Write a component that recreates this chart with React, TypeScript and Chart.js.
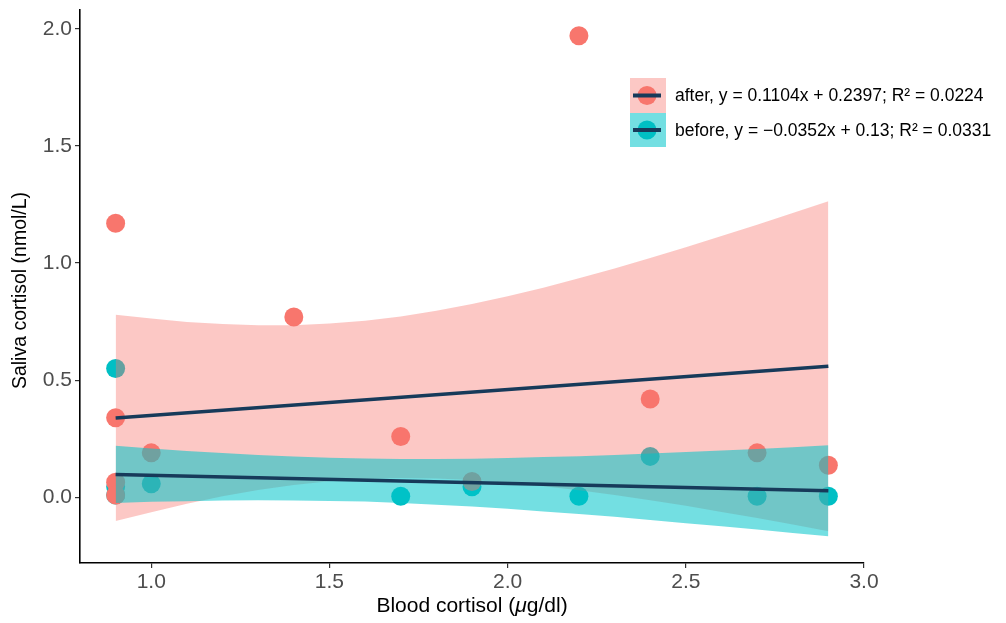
import React, { useEffect, useRef } from 'react';
import { Chart, registerables } from 'chart.js';

Chart.register(...registerables);

const FONT = '"Liberation Sans", Arial, Helvetica, sans-serif';

// Observed points
const afterX = [0.9, 0.9, 0.9, 0.9, 1.0, 1.4, 1.7, 1.9, 2.2, 2.4, 2.7, 2.9];
const afterY = [1.17, 0.34, 0.065, 0.01, 0.19, 0.77, 0.26, 0.068, 1.97, 0.42, 0.19, 0.137];
const beforeX = [0.9, 0.9, 0.9, 1.0, 1.7, 1.9, 2.2, 2.4, 2.7, 2.9];
const beforeY = [0.55, 0.045, 0.01, 0.058, 0.005, 0.045, 0.005, 0.175, 0.005, 0.005];

// Fitted lines (endpoints)
const fitX = [0.9, 2.9];
const afterFitY = [0.339, 0.560];
const beforeFitY = [0.098, 0.028];

// Confidence bands
const bandX = [0.9, 1.0, 1.1, 1.2, 1.3, 1.4, 1.5, 1.6, 1.7, 1.8, 1.9, 2.0, 2.1, 2.2, 2.3, 2.4, 2.5, 2.6, 2.7, 2.8, 2.9];
const afterUpper = [0.779, 0.763, 0.749, 0.740, 0.735, 0.735, 0.742, 0.754, 0.772, 0.796, 0.825, 0.858, 0.895, 0.935, 0.977, 1.022, 1.068, 1.115, 1.164, 1.214, 1.264];
const afterLower = [-0.101, -0.063, -0.027, 0.005, 0.032, 0.053, 0.069, 0.079, 0.083, 0.081, 0.074, 0.063, 0.048, 0.030, 0.010, -0.012, -0.036, -0.062, -0.088, -0.116, -0.144];
const beforeUpper = [0.220, 0.209, 0.198, 0.189, 0.181, 0.174, 0.169, 0.166, 0.164, 0.164, 0.165, 0.168, 0.172, 0.176, 0.181, 0.187, 0.194, 0.200, 0.207, 0.214, 0.222];
const beforeLower = [-0.024, -0.019, -0.016, -0.013, -0.012, -0.013, -0.015, -0.018, -0.024, -0.031, -0.039, -0.049, -0.060, -0.071, -0.083, -0.096, -0.110, -0.123, -0.137, -0.152, -0.166];

const xTicks = [1.0, 1.5, 2.0, 2.5, 3.0];
const yTicks = [0.0, 0.5, 1.0, 1.5, 2.0];

const legendLabels = [
  'after, y = 0.1104x + 0.2397; R\u00B2 = 0.0224',
  'before, y = \u22120.0352x + 0.13; R\u00B2 = 0.0331',
];

const RED = '#F8766D';
const TEAL = '#00BFC4';
const PINK_FILL = 'rgba(248,118,109,0.4)';
const TEAL_FILL = 'rgba(0,196,202,0.55)';
const NAVY = '#173A5A';

const pts = (xs: number[], ys: number[]) => xs.map((x, i) => ({ x, y: ys[i] }));

const overlayPlugin = {
  id: 'overlay',
  afterDraw(chart: any) {
    const ctx = chart.ctx;
    const area = chart.chartArea;
    ctx.save();
    // X title
    ctx.fillStyle = '#000';
    ctx.textBaseline = 'middle';
    const xt1 = 'Blood cortisol (';
    const xt2 = '\u03BC';
    const xt3 = 'g/dl)';
    const XF = 21;
    ctx.font = `${XF}px ${FONT}`;
    const w1 = ctx.measureText(xt1).width;
    const w3 = ctx.measureText(xt3).width;
    ctx.font = `italic ${XF}px ${FONT}`;
    const w2 = ctx.measureText(xt2).width;
    const total = w1 + w2 + w3;
    const cx = (area.left + area.right) / 2;
    const sx = cx - total / 2;
    const ty = 606;
    ctx.textAlign = 'left';
    ctx.font = `${XF}px ${FONT}`;
    ctx.fillText(xt1, sx, ty);
    ctx.font = `italic ${XF}px ${FONT}`;
    ctx.fillText(xt2, sx + w1, ty);
    ctx.font = `${XF}px ${FONT}`;
    ctx.fillText(xt3, sx + w1 + w2, ty);

    // Y title
    ctx.save();
    ctx.translate(21, (area.top + area.bottom) / 2 + 4);
    ctx.rotate(-Math.PI / 2);
    ctx.textAlign = 'center';
    ctx.font = `19.5px ${FONT}`;
    ctx.fillText('Saliva cortisol (nmol/L)', 0, 0);
    ctx.restore();

    // Legend
    const keys = [
      { fill: PINK_FILL, pt: RED, y0: 78, h: 35 },
      { fill: TEAL_FILL, pt: TEAL, y0: 113, h: 34 },
    ];
    keys.forEach((k, i) => {
      const kx = 630, kw = 36;
      ctx.fillStyle = k.fill;
      ctx.fillRect(kx, k.y0, kw, k.h);
      const cy = k.y0 + k.h / 2;
      ctx.beginPath();
      ctx.fillStyle = k.pt;
      ctx.arc(kx + 17, cy, 9.5, 0, Math.PI * 2);
      ctx.fill();
      ctx.strokeStyle = NAVY;
      ctx.lineWidth = 4;
      ctx.beginPath();
      ctx.moveTo(kx + 3, cy);
      ctx.lineTo(kx + 31, cy);
      ctx.stroke();
      ctx.fillStyle = '#000';
      ctx.font = `17.5px ${FONT}`;
      ctx.textAlign = 'left';
      ctx.textBaseline = 'middle';
      ctx.fillText(legendLabels[i], 675, cy + 1);
    });
    ctx.restore();
  },
};

export default function App() {
  const ref = useRef<HTMLCanvasElement | null>(null);
  useEffect(() => {
    if (!ref.current) return;
    const chart = new Chart(ref.current, {
      type: 'scatter',
      data: {
        datasets: [
          {
            label: 'before points',
            data: pts(beforeX, beforeY),
            backgroundColor: TEAL,
            borderWidth: 0,
            pointRadius: 9.5,
            order: 11,
          },
          {
            label: 'after points',
            data: pts(afterX, afterY),
            backgroundColor: RED,
            borderWidth: 0,
            pointRadius: 9.5,
            order: 10,
          },
          {
            label: 'after upper',
            data: pts(bandX, afterUpper),
            showLine: true,
            borderWidth: 0,
            borderColor: 'rgba(0,0,0,0)',
            pointRadius: 0,
            backgroundColor: PINK_FILL,
            fill: { target: 3 },
            tension: 0,
            order: 6,
          },
          {
            label: 'after lower',
            data: pts(bandX, afterLower),
            showLine: true,
            borderWidth: 0,
            borderColor: 'rgba(0,0,0,0)',
            pointRadius: 0,
            fill: false,
            order: 6,
          },
          {
            label: 'before upper',
            data: pts(bandX, beforeUpper),
            showLine: true,
            borderWidth: 0,
            borderColor: 'rgba(0,0,0,0)',
            pointRadius: 0,
            backgroundColor: TEAL_FILL,
            fill: { target: 5 },
            tension: 0,
            order: 5,
          },
          {
            label: 'before lower',
            data: pts(bandX, beforeLower),
            showLine: true,
            borderWidth: 0,
            borderColor: 'rgba(0,0,0,0)',
            pointRadius: 0,
            fill: false,
            order: 5,
          },
          {
            label: 'after fit',
            data: pts(fitX, afterFitY),
            showLine: true,
            borderColor: NAVY,
            borderWidth: 3.5,
            pointRadius: 0,
            fill: false,
            order: 1,
          },
          {
            label: 'before fit',
            data: pts(fitX, beforeFitY),
            showLine: true,
            borderColor: NAVY,
            borderWidth: 3.5,
            pointRadius: 0,
            fill: false,
            order: 1,
          },
        ],
      },
      options: {
        animation: false,
        responsive: false,
        layout: { padding: { left: 0, right: 142, top: 10, bottom: 0 } },
        plugins: {
          legend: { display: false },
          tooltip: { enabled: false },
          filler: { propagate: false },
        },
        scales: {
          x: {
            type: 'linear',
            min: 0.8,
            max: 3.0,
            afterBuildTicks: (s: any) => {
              s.ticks = xTicks.map((v) => ({ value: v }));
            },
            afterFit: (s: any) => {
              s.height = 60;
              s.paddingLeft = 0;
              s.paddingRight = 0;
            },
            ticks: {
              callback: (v: any) => Number(v).toFixed(1),
              font: { family: FONT, size: 21 },
              color: '#4D4D4D',
              padding: 2,
              maxRotation: 0,
              autoSkip: false,
            },
            grid: {
              display: true,
              drawOnChartArea: false,
              drawTicks: true,
              tickLength: 5,
              color: '#333333',
              lineWidth: 1.2,
            },
            border: { display: true, color: '#000', width: 1.6 },
          },
          y: {
            type: 'linear',
            min: -0.28,
            max: 2.08,
            afterBuildTicks: (s: any) => {
              s.ticks = yTicks.map((v) => ({ value: v }));
            },
            afterFit: (s: any) => {
              s.width = 80;
              s.paddingTop = 0;
              s.paddingBottom = 0;
            },
            ticks: {
              callback: (v: any) => Number(v).toFixed(1),
              font: { family: FONT, size: 21 },
              color: '#4D4D4D',
              padding: 3,
              autoSkip: false,
            },
            grid: {
              display: true,
              drawOnChartArea: false,
              drawTicks: true,
              tickLength: 5,
              color: '#333333',
              lineWidth: 1.2,
            },
            border: { display: true, color: '#000', width: 1.6 },
          },
        },
      } as any,
      plugins: [overlayPlugin],
    });
    return () => chart.destroy();
  }, []);
  return (
    <div style={{ position: 'absolute', left: 0, top: 0, width: 1006, height: 623, background: '#fff' }}>
      <canvas ref={ref} width={1006} height={623} />
    </div>
  );
}
